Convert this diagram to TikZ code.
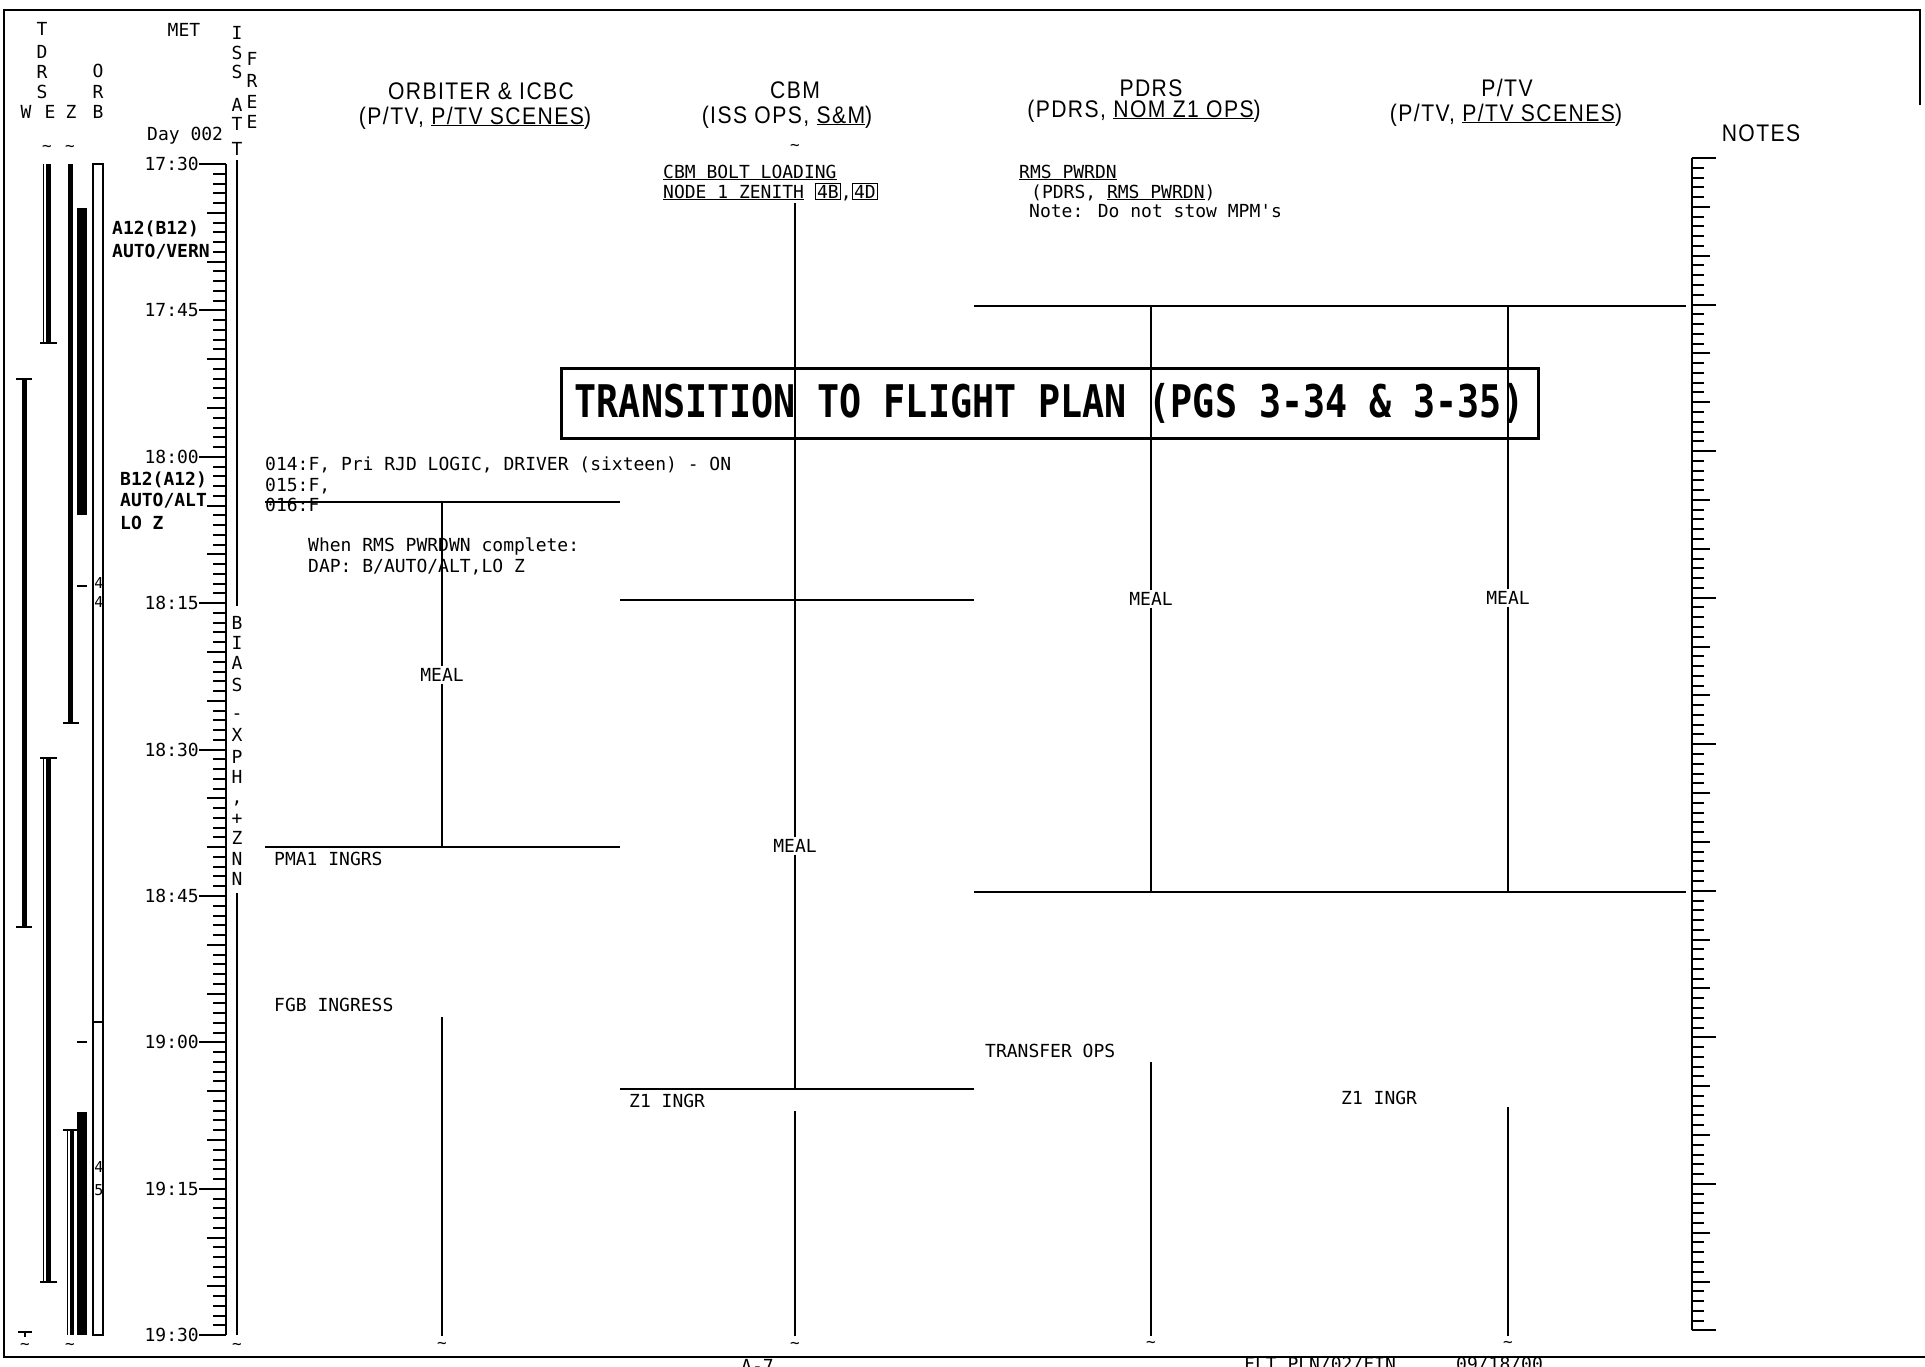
\documentclass[tikz,border=0pt]{standalone}
\usepackage{fontspec}
\newfontfamily\monofont{DejaVu Sans Mono}
\newfontfamily\titlefont[FakeStretch=0.815]{DejaVu Sans Mono}
\newfontfamily\headfont[FakeStretch=0.88,LetterSpace=6]{Liberation Sans}
\setlength{\fboxsep}{1pt}
\setlength{\fboxrule}{1.2pt}
\tikzset{
 ln/.style={line width=2pt},
 tx/.style={font=\monofont\fontsize{18}{21}\selectfont, inner sep=0pt, anchor=base west},
 bx/.style={font=\monofont\bfseries\fontsize{18}{21}\selectfont, inner sep=0pt, anchor=base west},
 vl/.style={font=\monofont\fontsize{18}{21}\selectfont, inner sep=0pt, anchor=center, text height=13pt, text depth=0pt},
 dg/.style={font=\monofont\fontsize{15}{16}\selectfont, inner sep=0pt, anchor=center, text height=11pt, text depth=0pt},
 hd/.style={font=\headfont\fontsize{24}{28}\selectfont, inner sep=0pt, anchor=base},
 meal/.style={font=\monofont\fontsize{18}{21}\selectfont, fill=white, inner sep=2pt, text height=13pt, text depth=0pt},
 tl/.style={font=\monofont\fontsize{16}{18}\selectfont, inner sep=0pt},
 barline/.style={line width=5pt},
 capline/.style={line width=2pt},
}
\begin{document}
\begin{tikzpicture}[x=1pt,y=-1pt]
\useasboundingbox (0,0) rectangle (1925,1366);
% page frame
\draw[line width=2.5pt] (1920,105) -- (1920,10) -- (4,10) -- (4,1357) -- (1925,1357);

% ---------- left header letters ----------
\foreach \c/\yy [count=\i] in {T/29,D/52,R/72,S/92} \node[vl] (tdrs\i) at (42,\yy) {\c};
\node[vl] (hW) at (26,112) {W};
\node[vl] (hE) at (50,112) {E};
\node[vl] (hZ) at (71,112) {Z};
\foreach \c/\yy [count=\i] in {O/71,R/92,B/112} \node[vl] (orb\i) at (98,\yy) {\c};
\node[tx, anchor=base] (met) at (184,36) {MET};
\node[tx] (day) at (147,140) {Day 002};
\foreach \c/\yy [count=\i] in {I/33,S/53,S/72,A/105,T/124,T/149} \node[vl] (iss\i) at (237,\yy) {\c};
\foreach \c/\yy [count=\i] in {F/59,R/81,E/102,E/122} \node[vl] (free\i) at (252,\yy) {\c};
\node[tl] (tilE) at (47,148) {\textasciitilde};
\node[tl] (tilZ) at (70,148) {\textasciitilde};

% ---------- TDRS / ORB bars ----------
% W
\draw[barline] (24,379) -- (24,927);
\draw[capline] (16,379) -- (32,379);
\draw[capline] (16,927) -- (32,927);
\draw[capline] (18,1332) -- (32,1332);
\draw[capline] (25,1332) -- (25,1337);
\node[tl] (tilW) at (25,1346) {\textasciitilde};
% E
\draw[line width=1pt] (43,164) -- (43,343);
\draw[barline] (48.5,164) -- (48.5,343);
\draw[capline] (40,343) -- (57,343);
\draw[capline] (40,758) -- (57,758);
\draw[line width=1pt] (43,758) -- (43,1282);
\draw[barline] (48.5,758) -- (48.5,1282);
\draw[capline] (40,1282) -- (57,1282);
% Z
\draw[barline] (70,164) -- (70,723);
\draw[capline] (63,723) -- (79,723);
\fill (77,208) rectangle (87,515);
\draw[capline] (77,586) -- (87,586);
\draw[capline] (77,1042) -- (87,1042);
\draw[capline] (63,1130) -- (77,1130);
\draw[line width=1pt] (67,1130) -- (67,1335);
\draw[line width=4pt] (72,1130) -- (72,1335);
\fill (77,1112) rectangle (87,1335);
\node[tl] (tilZ2) at (70,1346) {\textasciitilde};
% ORB
\draw[line width=1.8pt] (93,164) rectangle (103,1335);
\draw[line width=1.8pt] (93,1022) -- (103,1022);
\node[dg] (dg1) at (99,583) {4};
\node[dg] (dg2) at (99,602) {4};
\node[dg] (dg3) at (99,1167) {4};
\node[dg] (dg4) at (99,1190) {5};

% ---------- MET axis ----------
\draw[ln] (226,164) -- (226,1335);
\foreach \m in {0,...,120}{
  \pgfmathsetmacro\yy{164+9.76*\m}
  \pgfmathtruncatemacro\ra{mod(\m,15)}
  \pgfmathtruncatemacro\rb{mod(\m,5)}
  \ifnum\ra=0 \draw[ln] (199,\yy) -- (226,\yy);
  \else\ifnum\rb=0 \draw[ln] (207,\yy) -- (226,\yy);
  \else \draw[ln] (213,\yy) -- (226,\yy); \fi\fi
}
\foreach \lab [count=\i from 0] in {17:30,17:45,18:00,18:15,18:30,18:45,19:00,19:15,19:30}{
  \pgfmathsetmacro\yy{164+146.4*\i+6.5}
  \node[tx, anchor=base east] (tm\i) at (199,\yy) {\lab};
}

% bold DAP labels
\node[bx] (a12) at (112,234) {A12(B12)};
\node[bx] (autovern) at (112,257) {AUTO/VERN};
\node[bx] (b12) at (120,485) {B12(A12)};
\node[bx] (autoalt) at (120,506) {AUTO/ALT};
\node[bx] (loz) at (120,529) {LO Z};

% ---------- ISS ATT column ----------
\draw[ln] (237,160) -- (237,606);
\draw[ln] (237,893) -- (237,1335);
\node[vl] (b1) at (237,623) {B};
\node[vl] (b2) at (237,643) {I};
\node[vl] (b3) at (237,663) {A};
\node[vl] (b4) at (237,685) {S};
\node[vl] (b5) at (237,713) {-};
\node[vl] (b6) at (237,735) {X};
\node[vl] (b7) at (237,757) {P};
\node[vl] (b8) at (237,777) {H};
\node[vl] (b9) at (237,797) {,};
\node[vl] (b10) at (237,818) {+};
\node[vl] (b11) at (237,838) {Z};
\node[vl] (b12n) at (237,859) {N};
\node[vl] (b13) at (237,879) {N};
\node[tl] (tilI) at (237,1346) {\textasciitilde};

% ---------- column headings ----------
\node[hd] (h1a) at (481,99) {ORBITER \& ICBC};
\node[hd] (h1b) at (475,124) {(P/TV, \underline{P/TV SCENES})};
\node[hd] (h2a) at (795,98) {CBM};
\node[hd] (h2b) at (787,123) {(ISS OPS, \underline{S\&M})};
\node[hd] (h3a) at (1151,96) {PDRS};
\node[hd] (h3b) at (1144,117) {(PDRS, \underline{NOM Z1 OPS})};
\node[hd] (h4a) at (1507,96) {P/TV};
\node[hd] (h4b) at (1506,121) {(P/TV, \underline{P/TV SCENES})};
\node[hd] (h5) at (1761,141) {NOTES};

% ---------- ORBITER & ICBC ----------
\node[tx] (o14) at (265,470) {014:F, Pri RJD LOGIC, DRIVER (sixteen) - ON};
\node[tx] (o15) at (265,491) {015:F,};
\node[tx] (o16) at (265,511) {016:F};
\draw[ln] (265,502) -- (620,502);
\node[tx] (when) at (308,551) {When RMS PWRDWN complete:};
\node[tx] (dap) at (308,572) {DAP: B/AUTO/ALT,LO Z};
\node[meal] (meal1) at (442,675) {MEAL};
\draw[ln] (442,502) -- (meal1) -- (442,847);
\draw[ln] (265,847) -- (620,847);
\node[tx] (pma) at (274,865) {PMA1 INGRS};
\node[tx] (fgb) at (274,1011) {FGB INGRESS};
\draw[ln] (442,1017) -- (442,1336);
\node[tl] (tilO) at (442,1345) {\textasciitilde};

% ---------- CBM ----------
\node[tl] (tilC) at (795,147) {\textasciitilde};
\node[tx] (cbm1) at (663,178) {\underline{CBM BOLT LOADING}};
\node[tx] (cbm2) at (663,198) {\underline{NODE 1 ZENITH} \fbox{4B},\fbox{4D}};
\node[meal] (meal2) at (795,846) {MEAL};
\draw[ln] (795,203) -- (meal2) -- (795,1089);
\draw[ln] (620,600) -- (974,600);
\draw[ln] (620,1089) -- (974,1089);
\node[tx] (z1a) at (629,1107) {Z1 INGR};
\draw[ln] (795,1111) -- (795,1336);
\node[tl] (tilC2) at (795,1345) {\textasciitilde};

% ---------- PDRS ----------
\node[tx] (rms) at (1019,178) {\underline{RMS PWRDN}};
\node[tx] (rms2) at (1031,198) {(PDRS, \underline{RMS PWRDN})};
\node[tx] (note) at (1029,217) {Note: Do not stow MPM\textquotesingle s};
\draw[ln] (974,306) -- (1686,306);
\draw[ln] (974,892) -- (1686,892);
\node[meal] (meal3) at (1151,599) {MEAL};
\draw[ln] (1151,306) -- (meal3) -- (1151,892);
\node[tx] (xfer) at (985,1057) {TRANSFER OPS};
\draw[ln] (1151,1062) -- (1151,1336);
\node[tl] (tilP) at (1151,1344) {\textasciitilde};

% ---------- P/TV ----------
\node[meal] (meal4) at (1508,598) {MEAL};
\draw[ln] (1508,306) -- (meal4) -- (1508,892);
\node[tx] (z1b) at (1341,1104) {Z1 INGR};
\draw[ln] (1508,1107) -- (1508,1336);
\node[tl] (tilT) at (1508,1344) {\textasciitilde};

% ---------- transition banner ----------
\node[draw, line width=3pt, minimum width=977pt, minimum height=70pt, inner sep=0pt,
      font=\titlefont\bfseries\fontsize{45}{50}\selectfont] (title) at (1049.5,403)
      {TRANSITION TO FLIGHT PLAN (PGS 3-34 \& 3-35)};

% ---------- NOTES ruler ----------
\draw[ln] (1692,158) -- (1692,1330);
\foreach \m in {0,...,120}{
  \pgfmathsetmacro\yy{158+9.77*\m}
  \pgfmathtruncatemacro\ra{mod(\m,15)}
  \pgfmathtruncatemacro\rb{mod(\m,5)}
  \ifnum\ra=0 \draw[ln] (1692,\yy) -- (1716,\yy);
  \else\ifnum\rb=0 \draw[ln] (1692,\yy) -- (1710,\yy);
  \else \draw[ln] (1692,\yy) -- (1704,\yy); \fi\fi
}

% ---------- footer (cut by page edge) ----------
\node[tx] (pg) at (741,1372) {A-7};
\node[tx] (flt) at (1244,1370) {FLT PLN/02/FIN};
\node[tx] (date) at (1456,1370) {09/18/00};
\end{tikzpicture}
\end{document}
